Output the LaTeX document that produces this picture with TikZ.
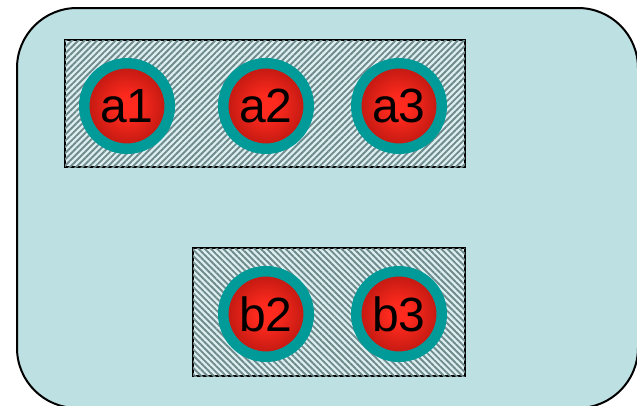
\documentclass[tikz,border=0pt]{standalone}
\usepackage{fontspec}
\setmainfont{Liberation Sans}
\usepackage{xcolor}
\usetikzlibrary{patterns.meta, positioning}

\definecolor{panelbg}{HTML}{BDE0E3}
\definecolor{ringteal}{HTML}{009A99}
\definecolor{ballin}{HTML}{FF2A1E}
\definecolor{ballout}{HTML}{7A0603}
\definecolor{hatchlight}{HTML}{DDEFF1}
\definecolor{hatchdark}{HTML}{6F8A8C}
\pgfdeclareradialshading{ballshade}{\pgfpoint{0bp}{0bp}}{color(0bp)=(ballin); color(6bp)=(ballin); color(43bp)=(ballout); color(50bp)=(ballout)}

\begin{document}
\begin{tikzpicture}[x=1pt, y=-1pt]
    \tikzstyle{panel} = [draw, line width=2pt, fill=panelbg, rounded corners=60pt]
    \tikzstyle{group} = [draw, line width=1.8pt, fill=hatchlight]
    \tikzstyle{hatchne} = [postaction={pattern={Lines[angle=45, distance=4.4pt, line width=1.9pt]}, pattern color=hatchdark}]
    \tikzstyle{hatchnw} = [postaction={pattern={Lines[angle=-45, distance=4.4pt, line width=1.9pt]}, pattern color=hatchdark}]
    \tikzstyle{ball} = [circle, draw=ringteal, line width=10.5pt, shading=ballshade, minimum size=85.5pt, inner sep=0pt, font=\fontsize{48}{48}\selectfont]

    \useasboundingbox (0,0) rectangle (637,405);
    \draw [panel] (17,8) rectangle (638,408);

    % upper group
    \draw [group, hatchne] (65,40) rectangle (465,167);
    \node [ball] (a1) at (127,106) {a1};
    \node [ball] (a2) at (266,106) {a2};
    \node [ball] (a3) at (399,106) {a3};

    % lower group
    \draw [group, hatchnw] (193,248) rectangle (465,376);
    \node [ball] (b2) at (266,314) {b2};
    \node [ball] (b3) at (399,314) {b3};
\end{tikzpicture}
\end{document}
